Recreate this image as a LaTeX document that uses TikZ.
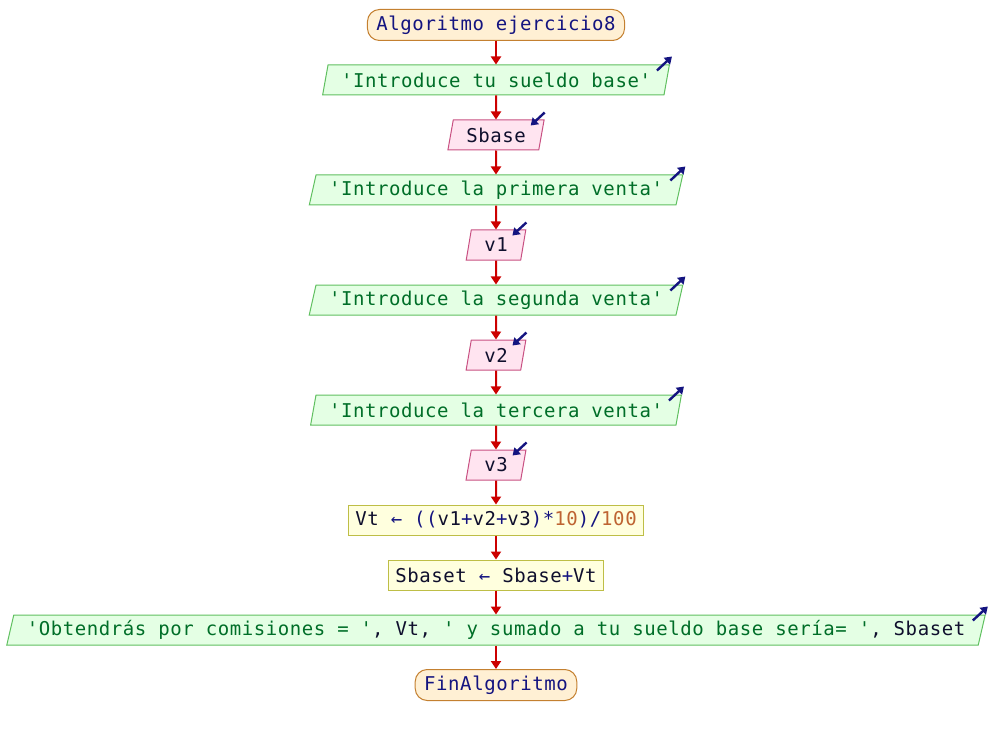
\documentclass[tikz,border=0pt]{standalone}
\usepackage{fontspec}
\usepackage{tikz}
\usetikzlibrary{shapes.geometric,arrows.meta}
\newfontfamily\psfont{DejaVu Sans Mono}[LetterSpace=3]
\definecolor{termfill}{RGB}{255,240,212}
\definecolor{termdraw}{RGB}{196,128,48}
\definecolor{outfill}{RGB}{228,255,228}
\definecolor{outdraw}{RGB}{96,192,96}
\definecolor{readfill}{RGB}{255,228,240}
\definecolor{readdraw}{RGB}{200,80,130}
\definecolor{procfill}{RGB}{255,255,222}
\definecolor{procdraw}{RGB}{190,190,70}
\definecolor{flowred}{RGB}{204,0,0}
\definecolor{navy}{RGB}{20,20,128}
\definecolor{strgreen}{RGB}{0,110,40}
\definecolor{numbrown}{RGB}{190,100,50}
\definecolor{idblack}{RGB}{15,15,45}
\newcommand{\strg}[1]{\textcolor{strgreen}{#1}}
\newcommand{\numb}[1]{\textcolor{numbrown}{#1}}
\newcommand{\opr}[1]{\textcolor{navy}{#1}}

\begin{document}
\begin{tikzpicture}[x=1pt,y=-1pt,
    every node/.style={font=\psfont\fontsize{19}{22}\selectfont,text=idblack,line width=1pt},
    term/.style={draw=termdraw,fill=termfill,rounded corners=12pt,minimum height=31pt,inner xsep=9pt,inner ysep=0pt,text=navy},
    io/.style={trapezium,trapezium left angle=70,trapezium right angle=110,trapezium stretches=true,minimum height=30pt,inner xsep=13pt,inner ysep=0pt},
    outbox/.style={io,draw=outdraw,fill=outfill},
    readbox/.style={io,draw=readdraw,fill=readfill},
    procbox/.style={draw=procdraw,fill=procfill,minimum height=30pt,inner xsep=7pt,inner ysep=0pt},
    flow/.style={draw=flowred,line width=2pt,-{Triangle[length=8pt,width=10pt]}},
    outarr/.style={draw=navy,line width=2.4pt,-{Triangle[length=7pt,width=9pt]}},
    inarr/.style={draw=navy,line width=2.4pt,-{Triangle[length=7pt,width=9pt]}}]
    \useasboundingbox (0,0) rectangle (992,735);

    % start / end
    \node[term] (inicio) at (496,25) {Algoritmo ejercicio8};
    \node[term] (fin) at (496,685) {FinAlgoritmo};

    % messages and reads
    \node[outbox] (msg1) at (496,80) {\strg{'Introduce tu sueldo base'}};
    \node[readbox] (sbase) at (496,135) {Sbase};
    \node[outbox] (msg2) at (496,190) {\strg{'Introduce la primera venta'}};
    \node[readbox] (v1) at (496,245) {v1};
    \node[outbox] (msg3) at (496,300) {\strg{'Introduce la segunda venta'}};
    \node[readbox] (v2) at (496,355) {v2};
    \node[outbox] (msg4) at (496,410) {\strg{'Introduce la tercera venta'}};
    \node[readbox] (v3) at (496,465) {v3};

    % assignments
    \node[procbox] (vt) at (496,520) {Vt \opr{←} \opr{((}v1\opr{+}v2\opr{+}v3\opr{)*}\numb{10}\opr{)/}\numb{100}};
    \node[procbox] (sbaset) at (496,575) {Sbaset \opr{←} Sbase\opr{+}Vt};

    % result
    \node[outbox] (msg5) at (496,630) {\strg{'Obtendrás por comisiones = '}, Vt, \strg{' y sumado a tu sueldo base sería= '}, Sbaset};

    % flow
    \draw[flow] (inicio) -- (msg1);
    \draw[flow] (msg1) -- (sbase);
    \draw[flow] (sbase) -- (msg2);
    \draw[flow] (msg2) -- (v1);
    \draw[flow] (v1) -- (msg3);
    \draw[flow] (msg3) -- (v2);
    \draw[flow] (v2) -- (msg4);
    \draw[flow] (msg4) -- (v3);
    \draw[flow] (v3) -- (vt);
    \draw[flow] (vt) -- (sbaset);
    \draw[flow] (sbaset) -- (msg5);
    \draw[flow] (msg5) -- (fin);

    % in/out marks
    \draw[outarr] ([shift={(-13,6)}]msg1.top right corner) -- ++(15,-14);
    \draw[outarr] ([shift={(-13,6)}]msg2.top right corner) -- ++(15,-14);
    \draw[outarr] ([shift={(-13,6)}]msg3.top right corner) -- ++(15,-14);
    \draw[outarr] ([shift={(-13,6)}]msg4.top right corner) -- ++(15,-14);
    \draw[outarr] ([shift={(-13,6)}]msg5.top right corner) -- ++(15,-14);
    \draw[inarr] ([shift={(0,-7)}]sbase.top right corner) -- ++(-14,13);
    \draw[inarr] ([shift={(0,-7)}]v1.top right corner) -- ++(-14,13);
    \draw[inarr] ([shift={(0,-7)}]v2.top right corner) -- ++(-14,13);
    \draw[inarr] ([shift={(0,-7)}]v3.top right corner) -- ++(-14,13);
\end{tikzpicture}
\end{document}
